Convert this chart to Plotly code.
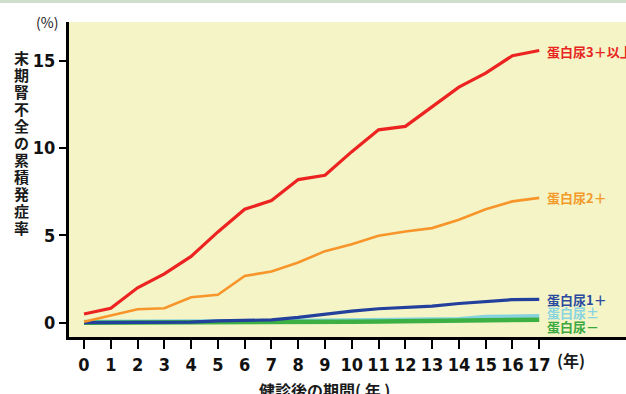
import plotly.graph_objects as go

years = list(range(18))
tick_labels = [str(y) for y in years]

# cumulative incidence of ESKD (%) by dipstick proteinuria
p3plus = [0.5, 0.83, 2.0, 2.8, 3.8, 5.2, 6.5, 7.0, 8.2, 8.45, 9.8, 11.05, 11.25, 12.4, 13.5, 14.3, 15.3, 15.6]
p2plus = [0.05, 0.4, 0.77, 0.83, 1.46, 1.6, 2.68, 2.93, 3.45, 4.1, 4.5, 4.98, 5.23, 5.42, 5.9, 6.5, 6.95, 7.15]
p1plus = [0.0, 0.0, 0.0, 0.0, 0.03, 0.1, 0.13, 0.16, 0.3, 0.5, 0.66, 0.8, 0.88, 0.95, 1.1, 1.22, 1.32, 1.34]
ppm    = [0.04, 0.04, 0.04, 0.04, 0.05, 0.06, 0.07, 0.08, 0.1, 0.11, 0.12, 0.13, 0.14, 0.15, 0.2, 0.32, 0.36, 0.37]
pneg   = [0.0, 0.0, 0.0, 0.0, 0.0, 0.01, 0.02, 0.03, 0.04, 0.05, 0.06, 0.07, 0.08, 0.09, 0.11, 0.14, 0.16, 0.17]

series = [
    ("蛋白尿±", ppm, "#86d3df", 4.5, "#88d4e0", 4),
    ("蛋白尿－", pneg, "#3cb043", 4.5, "#3aa840", -7),
    ("蛋白尿1＋", p1plus, "#22409c", 3.2, "#2a4aa0", 0),
    ("蛋白尿2＋", p2plus, "#f7952a", 2.6, "#f39a2b", 0),
    ("蛋白尿3＋以上", p3plus, "#ec2320", 3.2, "#e8251f", -1),
]

fig = go.Figure()
annotations = []
for name, vals, col, w, lcol, ysh in series:
    fig.add_trace(go.Scatter(x=years, y=vals, mode="lines", name=name,
                             line=dict(color=col, width=w), hoverinfo="skip"))
    annotations.append(dict(x=years[-1], y=vals[-1], xref="x", yref="y",
                            text=name, showarrow=False, xanchor="left", xshift=6,
                            yshift=ysh,
                            font=dict(family="Noto Sans CJK JP", size=13, color=lcol,
                                      weight="bold")))

ytitle = "末期腎不全の累積発症率"
plot_h = 315.0
for i, ch in enumerate(ytitle):
    py = 57.5 + i * 16.95
    annotations.append(dict(x=-48 / 557.0, y=1 - (py - 22) / plot_h, xref="paper", yref="paper",
                            text=ch, showarrow=False, xanchor="center", yanchor="middle",
                            font=dict(family="Noto Sans CJK JP", size=15, color="#1a1a1a",
                                      weight="bold")))

annotations.append(dict(x=-22 / 557.0, y=1.0, xref="paper", yref="paper", text="(%)",
                        showarrow=False, xanchor="center", yanchor="middle",
                        font=dict(family="Noto Sans CJK JP", size=14, color="#1a1a1a")))
annotations.append(dict(x=(571 - 69) / 557.0, y=-(360 - 337) / plot_h, xref="paper", yref="paper",
                        text="(年)", showarrow=False, xanchor="center", yanchor="middle",
                        font=dict(family="Noto Sans CJK JP", size=16, color="#1a1a1a",
                                  weight="bold")))
annotations.append(dict(x=(324 - 69) / 557.0, y=-(390 - 337) / plot_h, xref="paper", yref="paper",
                        text="健診後の期間( 年 )", showarrow=False, xanchor="center", yanchor="middle",
                        font=dict(family="Noto Sans CJK JP", size=16, color="#1a1a1a",
                                  weight="bold")))

tickfont = dict(family="Liberation Sans Narrow, DejaVu Sans Condensed, Arial Narrow, Liberation Sans",
                size=18, color="#111111", weight="bold")

fig.update_layout(
    width=626, height=394,
    margin=dict(l=69, r=0, t=22, b=57),
    paper_bgcolor="white",
    plot_bgcolor="#f4f4c6",
    showlegend=False,
    annotations=annotations,
    shapes=[dict(type="rect", xref="paper", yref="paper",
                 x0=-69 / 557.0, x1=1.0, y0=1 + 19 / plot_h, y1=1 + 22 / plot_h,
                 fillcolor="#cfdfcc", line=dict(width=0), layer="above")],
    xaxis=dict(range=[-0.56, 20.24], tickmode="array", tickvals=years, ticktext=tick_labels,
               showgrid=False, zeroline=False, showline=True, linecolor="black", linewidth=3,
               ticks="outside", ticklen=9, tickwidth=2, tickcolor="black",
               tickfont=tickfont, automargin=False),
    yaxis=dict(range=[-0.82, 17.23], tickmode="array", tickvals=[0, 5, 10, 15],
               showgrid=False, zeroline=False, showline=True, linecolor="black", linewidth=3,
               ticks="outside", ticklen=7, tickwidth=2, tickcolor="black",
               tickfont=tickfont, automargin=False),
)

fig.write_html("out.html", config={"displayModeBar": False},
               post_script="document.body.style.margin='0';document.body.style.overflow='hidden';")
